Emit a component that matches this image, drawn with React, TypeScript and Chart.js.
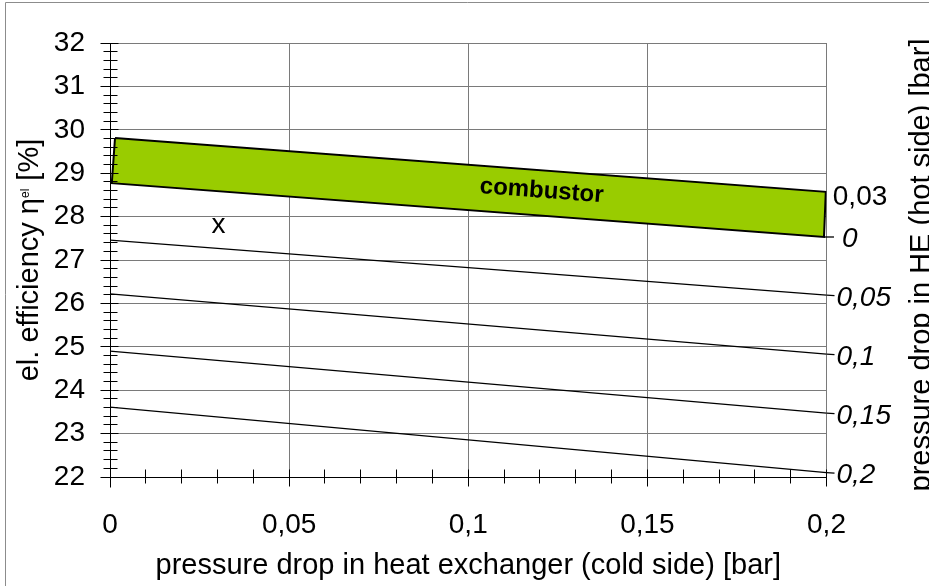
import React, { useEffect, useRef } from 'react';
import { Chart, registerables } from 'chart.js';

Chart.register(...registerables);

const FONT = '"Liberation Sans", Arial, Helvetica, sans-serif';

// ---- axes ----
const xTickValues = [0, 0.05, 0.1, 0.15, 0.2];
const xTickLabels = ['0', '0,05', '0,1', '0,15', '0,2'];
const yTickValues = [22, 23, 24, 25, 26, 27, 28, 29, 30, 31, 32];
const yTickLabels = ['22', '23', '24', '25', '26', '27', '28', '29', '30', '31', '32'];
const xMinorCount = 20; // 0.01 steps
const yMinorCount = 50; // 0.2 steps

const xTitle = 'pressure drop in heat exchanger (cold side) [bar]';
const yTitleMain = 'el. efficiency ';
const yTitleSymbol = 'η';
const yTitleSub = 'el';
const yTitleUnit = ' [%]';
const y2Title = 'pressure drop in HE (hot side) [bar]';

// ---- hot-side pressure-drop lines ----
const coldSideEnds = [0, 0.2];
const hotSideLabels = ['0,05', '0,1', '0,15', '0,2'];
const effAtZeroCold = [27.46, 26.22, 24.9, 23.61];
const effAtMaxCold = [26.19, 24.83, 23.47, 22.1];

// ---- combustor band ----
const bandTopX = [0.0014, 0.1998];
const bandTopY = [29.81, 28.57];
const bandBottomX = [0.0005, 0.1993];
const bandBottomY = [28.77, 27.53];
const bandTopLabel = '0,03';
const bandBottomLabel = '0';
const bandText = 'combustor';
const bandTextAt = 0.1205;

const markerText = 'x';
const markerX = 0.0303;
const markerY = 27.75;

function align(px: number) {
  return Math.round(px - 0.5) + 0.5;
}

const decorPlugin = {
  id: 'decor',
  afterDraw(chart: any) {
    const { ctx, chartArea: a } = chart;
    const xs = chart.scales.x;
    const ys = chart.scales.y;
    const px = (v: number) => xs.getPixelForValue(v);
    const py = (v: number) => ys.getPixelForValue(v);
    ctx.save();

    // outer frame
    ctx.strokeStyle = '#8c8c8c';
    ctx.lineWidth = 1;
    ctx.beginPath();
    ctx.moveTo(5.5, 600);
    ctx.lineTo(5.5, 2.5);
    ctx.lineTo(940, 2.5);
    ctx.stroke();

    // axis lines
    const xl = align(a.left);
    const yb = align(a.bottom);
    ctx.strokeStyle = '#000';
    ctx.lineWidth = 1;
    ctx.beginPath();
    ctx.moveTo(xl, a.top);
    ctx.lineTo(xl, yb + 10);
    ctx.moveTo(xl, yb);
    ctx.lineTo(a.right, yb);
    ctx.stroke();

    // y ticks
    ctx.beginPath();
    for (let i = 0; i <= yMinorCount; i++) {
      const v = yTickValues[0] + (i * (yTickValues[yTickValues.length - 1] - yTickValues[0])) / yMinorCount;
      const yy = align(py(v));
      if (i % 5 === 0) {
        ctx.moveTo(xl - 10, yy);
        ctx.lineTo(xl + 8, yy);
      } else {
        ctx.moveTo(xl - 7, yy);
        ctx.lineTo(xl + 7, yy);
      }
    }
    // x ticks
    for (let i = 0; i <= xMinorCount; i++) {
      const v = (i * xTickValues[xTickValues.length - 1]) / xMinorCount;
      const xx = align(px(v));
      if (i % 5 === 0) {
        ctx.moveTo(xx, yb - 8);
        ctx.lineTo(xx, yb + 9);
      } else {
        ctx.moveTo(xx, yb - 8);
        ctx.lineTo(xx, yb + 6);
      }
    }
    ctx.stroke();

    // right-hand labels with leaders
    ctx.fillStyle = '#000';
    ctx.textBaseline = 'middle';
    ctx.textAlign = 'left';
    ctx.lineWidth = 1.3;
    for (let i = 0; i < hotSideLabels.length; i++) {
      const xe = px(coldSideEnds[1]);
      const ye = py(effAtMaxCold[i]);
      ctx.beginPath();
      ctx.moveTo(xe, ye);
      ctx.lineTo(xe + 8, ye + 0.5);
      ctx.stroke();
      ctx.font = `italic 28px ${FONT}`;
      ctx.fillText(hotSideLabels[i], xe + 10, ye + 3);
    }
    {
      const xe = px(bandBottomX[1]);
      const ye = py(bandBottomY[1]);
      ctx.beginPath();
      ctx.moveTo(xe, ye);
      ctx.lineTo(xe + 10, ye);
      ctx.stroke();
      ctx.font = `italic 28px ${FONT}`;
      ctx.fillText(bandBottomLabel, xe + 18, ye + 2);
      const xt = px(bandTopX[1]);
      const yt = py(bandTopY[1]);
      ctx.font = `28px ${FONT}`;
      ctx.fillText(bandTopLabel, xt + 7, yt + 5);
    }

    // combustor text
    {
      const f = (bandTextAt - bandTopX[0]) / (bandTopX[1] - bandTopX[0]);
      const yTop = bandTopY[0] + f * (bandTopY[1] - bandTopY[0]);
      const g = (bandTextAt - bandBottomX[0]) / (bandBottomX[1] - bandBottomX[0]);
      const yBot = bandBottomY[0] + g * (bandBottomY[1] - bandBottomY[0]);
      const cx = px(bandTextAt);
      const cy = (py(yTop) + py(yBot)) / 2 - 2;
      const ang = Math.atan2(py(bandTopY[1]) - py(bandTopY[0]), px(bandTopX[1]) - px(bandTopX[0]));
      ctx.save();
      ctx.translate(cx, cy);
      ctx.rotate(ang);
      ctx.font = `bold 24px ${FONT}`;
      ctx.textAlign = 'center';
      ctx.textBaseline = 'middle';
      ctx.fillText(bandText, 0, 0);
      ctx.restore();
    }

    // marker text
    ctx.font = `28px ${FONT}`;
    ctx.textAlign = 'center';
    ctx.textBaseline = 'middle';
    ctx.fillText(markerText, px(markerX), py(markerY) - 2);

    // x title
    ctx.font = `29px ${FONT}`;
    ctx.textAlign = 'center';
    ctx.textBaseline = 'alphabetic';
    ctx.fillText(xTitle, (a.left + a.right) / 2, 574);

    // y title (rotated)
    {
      const big = `29px ${FONT}`;
      const small = `12px ${FONT}`;
      ctx.font = big;
      const w1 = ctx.measureText(yTitleMain).width;
      const w2 = ctx.measureText(yTitleSymbol).width;
      const w4 = ctx.measureText(yTitleUnit).width;
      ctx.font = small;
      const w3 = ctx.measureText(yTitleSub).width;
      const total = w1 + w2 + w3 + w4;
      ctx.save();
      ctx.translate(37.5, (a.top + a.bottom) / 2);
      ctx.rotate(-Math.PI / 2);
      ctx.textAlign = 'left';
      ctx.textBaseline = 'alphabetic';
      let cur = -total / 2;
      ctx.font = big;
      ctx.fillText(yTitleMain, cur, 0);
      cur += w1;
      ctx.fillText(yTitleSymbol, cur, 0);
      cur += w2;
      ctx.font = small;
      ctx.fillText(yTitleSub, cur, -9);
      cur += w3;
      ctx.font = big;
      ctx.fillText(yTitleUnit, cur, 0);
      ctx.restore();
    }

    // right title (rotated)
    ctx.save();
    ctx.translate(930, 265);
    ctx.rotate(-Math.PI / 2);
    ctx.font = `29px ${FONT}`;
    ctx.textAlign = 'center';
    ctx.textBaseline = 'alphabetic';
    ctx.fillText(y2Title, 0, 0);
    ctx.restore();

    ctx.restore();
  },
};

export default function App() {
  const ref = useRef<HTMLCanvasElement>(null);

  useEffect(() => {
    if (!ref.current) return;
    const bandData = [
      { x: bandTopX[0], y: bandTopY[0] },
      { x: bandTopX[1], y: bandTopY[1] },
      { x: bandBottomX[1], y: bandBottomY[1] },
      { x: bandBottomX[0], y: bandBottomY[0] },
      { x: bandTopX[0], y: bandTopY[0] },
    ];
    const lineSets = hotSideLabels.map((lab, i) => ({
      label: lab,
      data: [
        { x: coldSideEnds[0], y: effAtZeroCold[i] },
        { x: coldSideEnds[1], y: effAtMaxCold[i] },
      ],
      borderColor: '#000',
      borderWidth: 1.3,
      pointRadius: 0,
      fill: false,
      tension: 0,
    }));

    const chart = new Chart(ref.current, {
      type: 'line',
      data: {
        datasets: [
          {
            label: bandText,
            data: bandData,
            borderColor: '#000',
            borderWidth: 2,
            backgroundColor: '#99CC00',
            fill: 'shape',
            pointRadius: 0,
            tension: 0,
          } as any,
          ...lineSets,
        ],
      },
      options: {
        responsive: false,
        animation: false,
        devicePixelRatio: 1,
        layout: { padding: { left: 0, top: 43, right: 102.5, bottom: 0 } },
        plugins: { legend: { display: false }, tooltip: { enabled: false } },
        scales: {
          x: {
            type: 'linear',
            min: 0,
            max: 0.2,
            afterBuildTicks: (s: any) => {
              s.ticks = xTickValues.map((v) => ({ value: v }));
            },
            afterFit: (s: any) => {
              s.height = 109;
            },
            ticks: {
              callback: (_v: any, i: number) => xTickLabels[i],
              font: { size: 28, family: FONT },
              color: '#000',
              padding: 31,
              maxRotation: 0,
              autoSkip: false,
            },
            grid: { color: '#7a7a7a', lineWidth: 1, drawTicks: false },
            border: { display: false },
          },
          y: {
            type: 'linear',
            min: 22,
            max: 32,
            afterBuildTicks: (s: any) => {
              s.ticks = yTickValues.map((v) => ({ value: v }));
            },
            afterFit: (s: any) => {
              s.width = 110;
            },
            ticks: {
              callback: (_v: any, i: number) => yTickLabels[i],
              font: { size: 28, family: FONT },
              color: '#000',
              padding: 25,
              autoSkip: false,
            },
            grid: { color: '#7a7a7a', lineWidth: 1, drawTicks: false },
            border: { display: false },
          },
        },
      } as any,
      plugins: [decorPlugin],
    });
    return () => chart.destroy();
  }, []);

  return (
    <div style={{ position: 'fixed', left: 0, top: 0, width: 929, height: 586, background: '#fff' }}>
      <canvas ref={ref} width={929} height={586} style={{ display: 'block', width: 929, height: 586 }} />
    </div>
  );
}
